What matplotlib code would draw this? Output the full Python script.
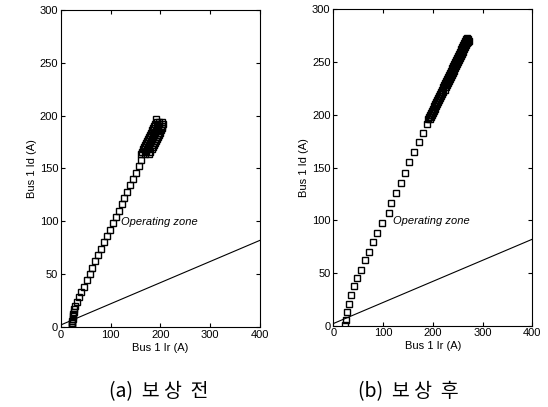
import matplotlib.pyplot as plt

plt.rcParams['font.family'] = ['Liberation Sans', 'DejaVu Sans']

# (a) before compensation: marker chain + dense cluster at the top
ir_a = [22, 22, 23, 23, 24, 24, 25, 26, 27, 29, 33, 37, 41, 46, 52, 58, 63, 69,
        75, 81, 87, 92, 98, 104, 110, 116, 122, 127, 133, 139, 145, 150, 156, 160,
        160, 168, 176, 162, 170, 179, 164, 173, 182, 166, 175, 184, 168, 177, 186,
        170, 179, 189, 172, 181, 191, 174, 183, 193, 176, 185, 195, 178, 187, 197,
        180, 189, 199, 182, 191, 201, 184, 193, 203, 186, 195, 204, 189, 197, 205,
        192, 198, 204, 190]
id_a = [0, 2, 4, 6, 8, 10, 12, 14, 17, 20, 24, 28, 33, 38, 44, 50, 56, 62,
        68, 74, 80, 86, 92, 98, 104, 110, 116, 122, 128, 134, 140, 146, 152, 158,
        164, 164, 164, 166, 166, 166, 168, 168, 168, 170, 170, 170, 172, 172, 172,
        174, 174, 174, 176, 176, 176, 178, 178, 178, 180, 180, 180, 182, 182, 182,
        184, 184, 184, 186, 186, 186, 188, 188, 188, 190, 190, 190, 192, 192, 192,
        194, 194, 194, 197]

# (b) after compensation
ir_b = [23, 25, 28, 32, 36, 42, 47, 56, 63, 72, 80, 88, 97, 111, 115, 127, 137,
        145, 153, 162, 172, 181, 189,
        190, 195, 192, 197, 194, 199, 196, 201, 198, 203, 200, 205, 202, 207, 204,
        209, 206, 211, 208, 213, 210, 215, 212, 217, 214, 219, 216, 221, 218, 224,
        220, 226, 222, 228, 224, 230, 226, 232, 228, 234, 230, 236, 232, 238, 234,
        240, 236, 242, 238, 244, 240, 246, 242, 248, 244, 250, 246, 252, 248, 254,
        250, 256, 252, 258, 254, 260, 256, 262, 258, 264, 260, 266, 262, 268, 264,
        270, 266, 270, 268, 272, 269, 271]
id_b = [1, 5, 13, 21, 29, 38, 45, 53, 62, 70, 79, 88, 97, 107, 116, 126, 135,
        145, 155, 165, 174, 183, 191,
        196, 196, 198, 198, 200, 200, 202, 202, 204, 204, 206, 206, 208, 208, 210,
        210, 212, 212, 214, 214, 216, 216, 218, 218, 220, 220, 222, 222, 224, 224,
        226, 226, 228, 228, 230, 230, 232, 232, 234, 234, 236, 236, 238, 238, 240,
        240, 242, 242, 244, 244, 246, 246, 248, 248, 250, 250, 252, 252, 254, 254,
        256, 256, 258, 258, 260, 260, 262, 262, 264, 264, 266, 266, 268, 268, 270,
        270, 272, 272, 271, 270, 273, 269]

# boundary of the operating zone
line_x = [0, 400]
line_y = [2, 82]

xticks = [0, 100, 200, 300, 400]
yticks = [0, 50, 100, 150, 200, 250, 300]
captions = ['(a)  보 상  전', '(b)  보 상  후']

fig = plt.figure(figsize=(5.48, 4.07), dpi=100)
ax_a = fig.add_axes([0.1113, 0.1966, 0.3631, 0.7789])
ax_b = fig.add_axes([0.6082, 0.1998, 0.3631, 0.7770])

for ax, ir, idd in [(ax_a, ir_a, id_a), (ax_b, ir_b, id_b)]:
    ax.plot(ir, idd, 's', ms=5, mfc='none', mec='black', mew=1.0)
    ax.plot(line_x, line_y, color='black', lw=0.8)
    ax.text(121, 99, 'Operating zone', fontsize=8, style='italic', va='center')
    ax.set_xlim(0, 400)
    ax.set_ylim(0, 300)
    ax.set_xticks(xticks)
    ax.set_yticks(yticks)
    ax.tick_params(direction='in', length=3, width=0.8, top=True, right=True,
                   labelsize=8, pad=2)
    for s in ax.spines.values():
        s.set_linewidth(0.8)
    ax.set_xlabel('Bus 1 Ir (A)', fontsize=8, labelpad=2)
    ax.set_ylabel('Bus 1 Id (A)', fontsize=8, labelpad=2)

fig.text(159 / 548, 1 - 392 / 407, captions[0], fontsize=14, ha='center',
         va='center', family=['Noto Sans CJK KR', 'DejaVu Sans'])
fig.text(408 / 548, 1 - 392 / 407, captions[1], fontsize=14, ha='center',
         va='center', family=['Noto Sans CJK KR', 'DejaVu Sans'])

fig.savefig('out.png', dpi=100)
